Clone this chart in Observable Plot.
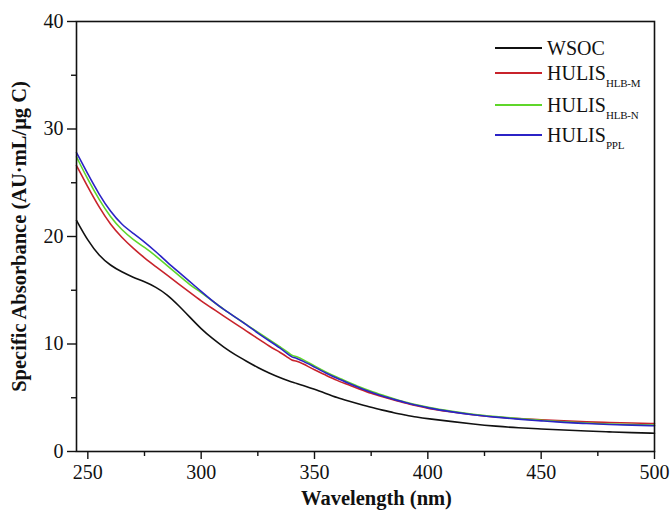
<!DOCTYPE html>
<html>
<head>
<meta charset="utf-8">
<script src="https://cdn.jsdelivr.net/npm/d3@7"></script>
<script src="https://cdn.jsdelivr.net/npm/@observablehq/plot@0.6"></script>
<style>
  body { margin: 0; background: #fff; }
  #wrap { position: relative; width: 672px; height: 510px; font-family: "Liberation Serif", "DejaVu Serif", serif; }
  #legend { position: absolute; left: 495px; top: 33px; font-size: 20px; color: #111; }
  #legend .row { position: absolute; left: 0; white-space: nowrap; height: 24px; }
  #legend .sw { position: absolute; left: 0; top: 0; width: 47px; height: 0; border-top: 2px solid; }
  #legend .tx { position: absolute; left: 52px; top: -11px; line-height: 24px; }
  #legend sub { font-size: 11px; vertical-align: -7px; letter-spacing: -0.2px; }
</style>
</head>
<body>
<div id="wrap"><div id="chart"></div><div id="legend"></div></div>
<script>
const wavelengths = [245,250,255,260,265,270,275,280,285,290,295,300,305,310,315,320,325,330,335,338,340,342,345,350,355,360,365,370,375,380,385,390,395,400,410,420,430,440,450,460,470,480,490,500];
const wsoc   = [21.5,19.6,18.2,17.3,16.7,16.2,15.8,15.3,14.6,13.6,12.5,11.4,10.5,9.7,9.0,8.4,7.8,7.3,6.85,6.6,6.45,6.35,6.15,5.8,5.4,5.0,4.7,4.4,4.1,3.85,3.6,3.4,3.2,3.05,2.8,2.55,2.35,2.2,2.1,2.0,1.9,1.82,1.75,1.7];
const hlbM   = [26.6,24.6,22.7,21.1,19.9,18.9,18.0,17.2,16.4,15.6,14.8,14.0,13.3,12.6,11.9,11.2,10.5,9.8,9.2,8.8,8.45,8.45,8.15,7.6,7.1,6.6,6.2,5.8,5.4,5.1,4.8,4.5,4.25,4.0,3.7,3.4,3.2,3.05,2.95,2.85,2.75,2.7,2.65,2.6];
const hlbN   = [27.4,25.3,23.4,21.8,20.6,19.7,19.0,18.2,17.3,16.4,15.5,14.8,14.0,13.2,12.5,11.8,11.1,10.4,9.7,9.3,8.9,8.85,8.55,7.95,7.4,6.9,6.45,6.0,5.6,5.25,4.9,4.6,4.35,4.1,3.75,3.45,3.25,3.05,2.9,2.75,2.65,2.55,2.5,2.45];
const ppl    = [27.8,25.8,23.9,22.3,21.1,20.3,19.5,18.6,17.6,16.7,15.8,14.9,14.0,13.2,12.5,11.8,11.0,10.3,9.6,9.1,8.75,8.7,8.4,7.85,7.3,6.8,6.35,5.9,5.5,5.15,4.85,4.55,4.3,4.05,3.7,3.4,3.2,3.0,2.85,2.7,2.6,2.5,2.45,2.4];

const seriesNames = ["WSOC", "HULIS_HLB-M", "HULIS_HLB-N", "HULIS_PPL"];
const seriesValues = [wsoc, hlbM, hlbN, ppl];
const seriesColors = ["#111111", "#c8232b", "#5fd62a", "#2b23c6"];
const legendBase = ["WSOC", "HULIS", "HULIS", "HULIS"];
const legendSub = ["", "HLB-M", "HLB-N", "PPL"];
const xMajor = [250,300,350,400,450,500];
const xMinor = [275,325,375,425,475];
const yMajor = [0,10,20,30,40];
const yMinor = [5,15,25,35];

const rows = [];
seriesNames.forEach((s, i) => wavelengths.forEach((w, j) => rows.push({series: s, x: w, y: seriesValues[i][j]})));

const chart = Plot.plot({
  width: 672,
  height: 510,
  marginLeft: 76,
  marginRight: 18,
  marginTop: 21,
  marginBottom: 59,
  style: {fontFamily: "'Liberation Serif', 'DejaVu Serif', serif", fontSize: "20px", color: "#111", background: "#fff"},
  x: {domain: [245, 500]},
  y: {domain: [0, 40]},
  color: {domain: seriesNames, range: seriesColors},
  marks: [
    Plot.line(rows, {x: "x", y: "y", z: "series", stroke: "series", strokeWidth: 1.6, curve: "basis"}),
    Plot.frame({stroke: "#111", strokeWidth: 1.6}),
    Plot.axisX({ticks: xMajor, tickSize: 8, tickPadding: 5, tickFormat: d => d, label: "Wavelength (nm)", labelAnchor: "center", labelArrow: "none", labelOffset: 53, strokeWidth: 1.4}),
    Plot.axisX({ticks: xMinor, tickSize: 5, tickFormat: () => "", label: null, strokeWidth: 1.4}),
    Plot.axisY({ticks: yMajor, tickSize: 9, tickPadding: 4, tickFormat: d => d, label: "Specific Absorbance (AU·mL/μg C)", labelAnchor: "center", labelArrow: "none", labelOffset: 65, strokeWidth: 1.4}),
    Plot.axisY({ticks: yMinor, tickSize: 5, tickFormat: () => "", label: null, strokeWidth: 1.4})
  ]
});
document.getElementById("chart").appendChild(chart);
d3.select(chart).selectAll('[aria-label="x-axis label"] text, [aria-label="y-axis label"] text')
  .style("font-weight", "bold").style("font-size", "20.5px");
d3.select(chart).selectAll('[aria-label="x-axis label"]').each(function () {
  const t = this.getAttribute("transform") || "";
  this.setAttribute("transform", t + " translate(11,0)");
});

const leg = d3.select("#legend");
const rowTops = [14, 39, 71, 101];
seriesNames.forEach((s, i) => {
  const r = leg.append("div").attr("class", "row").style("top", rowTops[i] + "px");
  r.append("div").attr("class", "sw").style("border-top-color", seriesColors[i]);
  const t = r.append("div").attr("class", "tx");
  t.append("span").text(legendBase[i]);
  if (legendSub[i]) t.append("sub").text(legendSub[i]);
});
</script>
</body>
</html>
